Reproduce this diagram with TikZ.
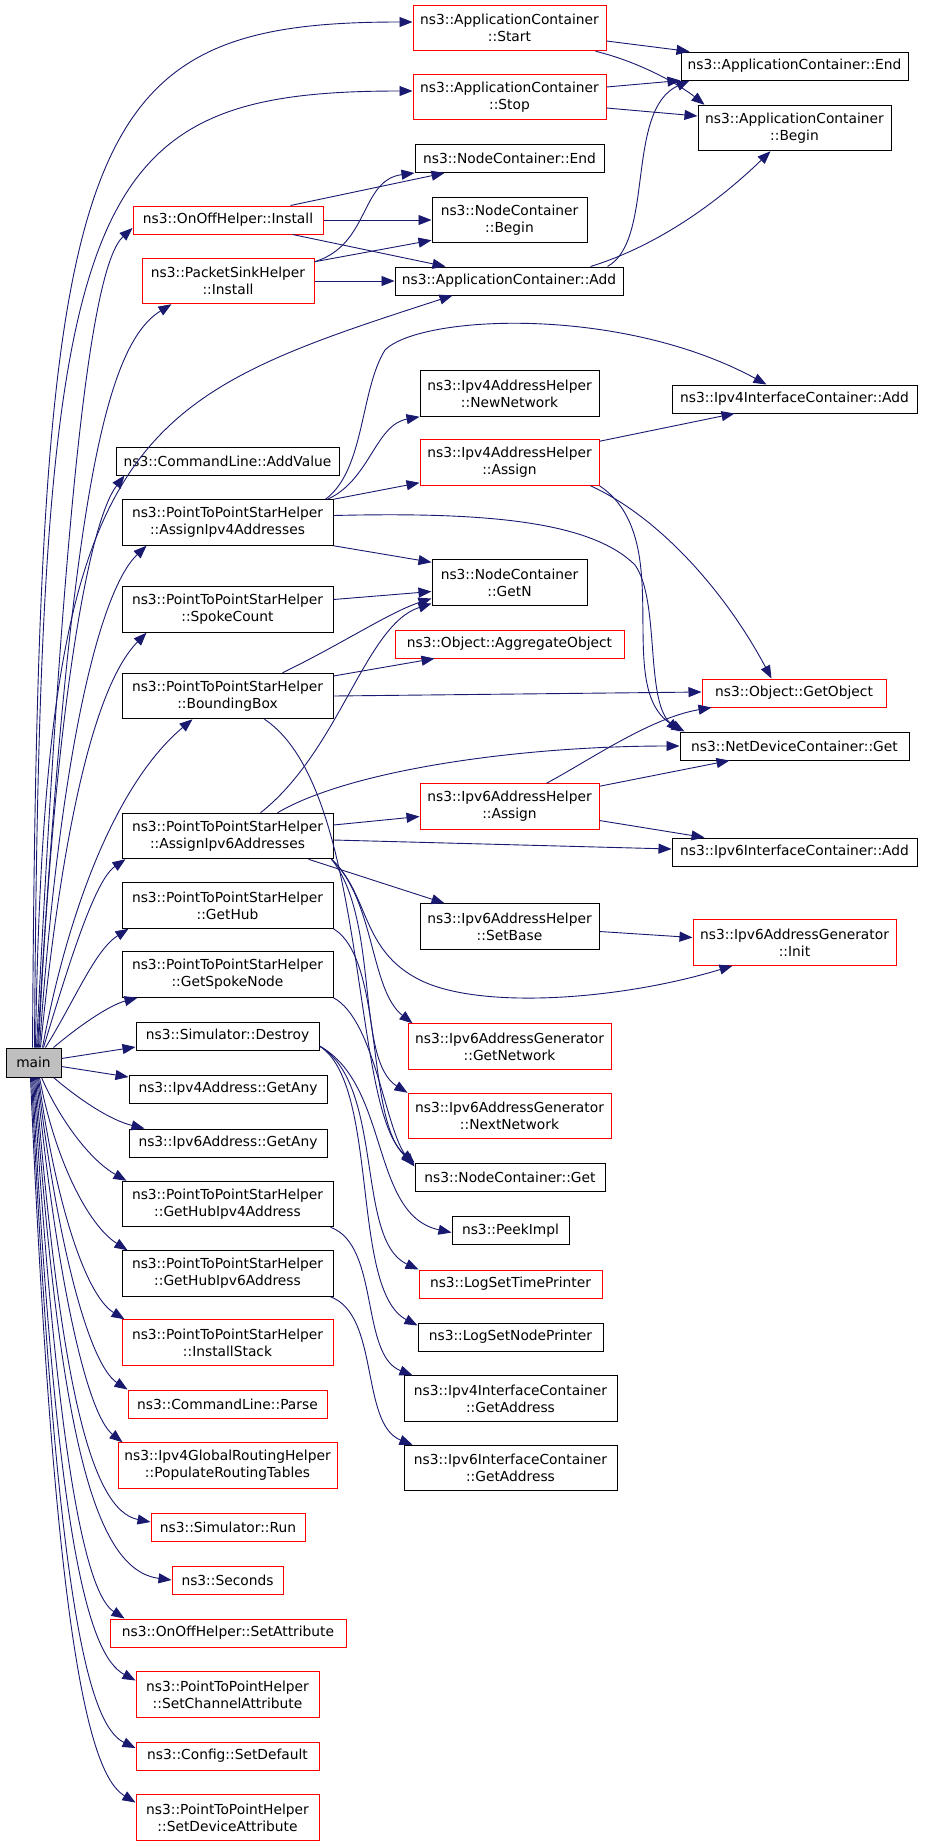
\documentclass[tikz,border=0pt]{standalone}
\usepackage{fontspec}
\setmainfont{DejaVu Sans}
\usetikzlibrary{arrows.meta, positioning, calc}
\definecolor{edgeblue}{HTML}{191970}
\definecolor{mainfill}{HTML}{BFBFBF}
\tikzset{
  fn/.style={draw=black, line width=1pt, fill=white, inner sep=0pt, align=center,
    font=\fontsize{13.8}{17}\selectfont, minimum height=28pt},
  fntwo/.style={fn, minimum height=45.5pt},
  redfn/.style={draw=red},
  call/.style={draw=edgeblue, line width=0.9pt, -{Triangle[length=13pt, width=10pt]}},
}
\begin{document}
\begin{tikzpicture}[x=1pt, y=-1pt]
\fill[white] (0,0) rectangle (928,1845);
\useasboundingbox (0,0) rectangle (928,1845);

\node[fntwo, redfn, minimum width=193] (start) at (509.5,28) {ns3::ApplicationContainer\\::Start};
\node[fntwo, redfn, minimum width=193] (stop) at (509.5,97) {ns3::ApplicationContainer\\::Stop};
\node[fn, minimum width=189] (ncend) at (509.5,158.5) {ns3::NodeContainer::End};
\node[fntwo, minimum width=155] (ncbegin) at (509.5,220) {ns3::NodeContainer\\::Begin};
\node[fn, minimum width=228] (appadd) at (509,281) {ns3::ApplicationContainer::Add};
\node[fn, minimum width=227] (append) at (794.5,66) {ns3::ApplicationContainer::End};
\node[fntwo, minimum width=193] (appbegin) at (794.5,128) {ns3::ApplicationContainer\\::Begin};
\node[fn, redfn, minimum width=190] (onoffinst) at (228,220) {ns3::OnOffHelper::Install};
\node[fntwo, redfn, minimum width=172] (sinkinst) at (228,281) {ns3::PacketSinkHelper\\::Install};
\node[fntwo, minimum width=179] (newnet) at (509.5,393.5) {ns3::Ipv4AddressHelper\\::NewNetwork};
\node[fn, minimum width=245] (v4icadd) at (794.5,399) {ns3::Ipv4InterfaceContainer::Add};
\node[fn, minimum width=223] (addvalue) at (227.5,461) {ns3::CommandLine::AddValue};
\node[fntwo, minimum width=211] (assign4s) at (227.5,522.5) {ns3::PointToPointStarHelper\\::AssignIpv4Addresses};
\node[fntwo, redfn, minimum width=179] (v4assign) at (509.5,462.5) {ns3::Ipv4AddressHelper\\::Assign};
\node[fntwo, minimum width=155] (getn) at (509.5,582.5) {ns3::NodeContainer\\::GetN};
\node[fntwo, minimum width=211] (spokecount) at (227.5,609.5) {ns3::PointToPointStarHelper\\::SpokeCount};
\node[fn, redfn, minimum width=229] (aggregate) at (509.5,644) {ns3::Object::AggregateObject};
\node[fntwo, minimum width=211] (bbox) at (227.5,696) {ns3::PointToPointStarHelper\\::BoundingBox};
\node[fn, redfn, minimum width=184] (getobject) at (794,693) {ns3::Object::GetObject};
\node[fn, minimum width=229] (ndcget) at (794.5,746) {ns3::NetDeviceContainer::Get};
\node[fntwo, redfn, minimum width=179] (v6assign) at (509.5,806.5) {ns3::Ipv6AddressHelper\\::Assign};
\node[fntwo, minimum width=211] (assign6s) at (227.5,836) {ns3::PointToPointStarHelper\\::AssignIpv6Addresses};
\node[fn, minimum width=245] (v6icadd) at (794.5,852) {ns3::Ipv6InterfaceContainer::Add};
\node[fntwo, minimum width=211] (gethub) at (227.5,905.5) {ns3::PointToPointStarHelper\\::GetHub};
\node[fntwo, minimum width=179] (setbase) at (509.5,926.5) {ns3::Ipv6AddressHelper\\::SetBase};
\node[fntwo, redfn, minimum width=203] (geninit) at (794.5,942.5) {ns3::Ipv6AddressGenerator\\::Init};
\node[fntwo, minimum width=211] (getspoke) at (227.5,974.5) {ns3::PointToPointStarHelper\\::GetSpokeNode};
\node[fntwo, redfn, minimum width=203] (getnetwork) at (509.5,1046.5) {ns3::Ipv6AddressGenerator\\::GetNetwork};
\node[fn, minimum width=183] (destroy) at (227.5,1036) {ns3::Simulator::Destroy};
\node[fn, fill=mainfill, minimum width=55, minimum height=29] (main) at (33.5,1062.5) {main};
\node[fn, minimum width=198] (v4any) at (228,1089) {ns3::Ipv4Address::GetAny};
\node[fntwo, redfn, minimum width=203] (nextnet) at (509.5,1116) {ns3::Ipv6AddressGenerator\\::NextNetwork};
\node[fn, minimum width=198] (v6any) at (228,1143) {ns3::Ipv6Address::GetAny};
\node[fn, minimum width=190] (ncget) at (510,1177) {ns3::NodeContainer::Get};
\node[fntwo, minimum width=211] (hubv4) at (227.5,1204) {ns3::PointToPointStarHelper\\::GetHubIpv4Address};
\node[fn, minimum width=117] (peekimpl) at (510.5,1230.5) {ns3::PeekImpl};
\node[fntwo, minimum width=211] (hubv6) at (227.5,1273.5) {ns3::PointToPointStarHelper\\::GetHubIpv6Address};
\node[fn, redfn, minimum width=183] (logtime) at (510.5,1284) {ns3::LogSetTimePrinter};
\node[fntwo, redfn, minimum width=211] (installstack) at (227.5,1342.5) {ns3::PointToPointStarHelper\\::InstallStack};
\node[fn, minimum width=185] (lognode) at (510.5,1337) {ns3::LogSetNodePrinter};
\node[fntwo, minimum width=213] (v4getaddr) at (510.5,1398.5) {ns3::Ipv4InterfaceContainer\\::GetAddress};
\node[fn, redfn, minimum width=199] (parse) at (227.5,1404) {ns3::CommandLine::Parse};
\node[fntwo, redfn, minimum width=219] (populate) at (227.5,1465.5) {ns3::Ipv4GlobalRoutingHelper\\::PopulateRoutingTables};
\node[fntwo, minimum width=213] (v6getaddr) at (510.5,1468) {ns3::Ipv6InterfaceContainer\\::GetAddress};
\node[fn, redfn, minimum width=154] (run) at (228,1527) {ns3::Simulator::Run};
\node[fn, redfn, minimum width=111] (seconds) at (227.5,1580) {ns3::Seconds};
\node[fn, redfn, minimum width=236] (setattr) at (228,1633) {ns3::OnOffHelper::SetAttribute};
\node[fntwo, redfn, minimum width=183] (setchannel) at (227.5,1694.5) {ns3::PointToPointHelper\\::SetChannelAttribute};
\node[fn, redfn, minimum width=183] (setdefault) at (227.5,1756) {ns3::Config::SetDefault};
\node[fntwo, redfn, minimum width=183] (setdevice) at (227.5,1817.5) {ns3::PointToPointHelper\\::SetDeviceAttribute};

% calls made by main
\draw[call] ([xshift=-1]main.north) .. controls (38,130) and (75,22) .. ([yshift=6]start.west);
\draw[call] ([xshift=1]main.north) .. controls (40,190) and (80,91) .. ([yshift=6]stop.west);
\draw[call] ([xshift=3]main.north) .. controls (65,480) and (92,265) .. ([yshift=-8]onoffinst.west);
\draw[call] ([xshift=4]main.north) .. controls (70,500) and (105,345) .. ([xshift=30]sinkinst.south west);
\draw[call] ([xshift=2]main.north) .. controls (45,430) and (130,400) .. ([xshift=58]appadd.south west);
\draw[call] ([xshift=5]main.north) .. controls (55,700) and (90,520) .. ([xshift=9]addvalue.south west);
\draw[call] ([xshift=6]main.north) .. controls (60,750) and (100,590) .. ([xshift=25]assign4s.south west);
\draw[call] ([xshift=7]main.north) .. controls (65,800) and (100,680) .. ([xshift=25]spokecount.south west);
\draw[call] ([xshift=9]main.north) .. controls (70,900) and (120,780) .. ([xshift=71]bbox.south west);
\draw[call] ([xshift=10]main.north) .. controls (70,960) and (95,880) .. ([xshift=4]assign6s.south west);
\draw[call] ([xshift=12]main.north) .. controls (75,1000) and (95,950) .. ([xshift=7]gethub.south west);
\draw[call] ([xshift=-8]main.north east) .. controls (80,1025) and (110,1005) .. ([xshift=16]getspoke.south west);
\draw[call] ([yshift=4]main.east) -- ([yshift=-11]destroy.west);
\draw[call] ([yshift=-4]main.east) -- ([yshift=12]v4any.west);
\draw[call] ([xshift=-8]main.south east) .. controls (80,1100) and (110,1120) .. ([xshift=16]v6any.north west);
\draw[call] ([xshift=8]main.south) .. controls (60,1120) and (90,1160) .. ([xshift=5]hubv4.north west);
\draw[call] ([xshift=6]main.south) .. controls (55,1160) and (88,1225) .. ([xshift=6]hubv6.north west);
\draw[call] ([xshift=5]main.south) .. controls (55,1200) and (85,1295) .. ([xshift=3]installstack.north west);
\draw[call] ([xshift=4]main.south) .. controls (58,1250) and (90,1365) .. (parse.north west);
\draw[call] ([xshift=3]main.south) .. controls (58,1290) and (88,1415) .. ([xshift=5]populate.north west);
\draw[call] ([xshift=2]main.south) .. controls (60,1380) and (90,1510) .. ([yshift=5]run.west);
\draw[call] ([xshift=1]main.south) .. controls (60,1440) and (95,1570) .. (seconds.west);
\draw[call] (main.south) .. controls (58,1480) and (88,1595) .. ([xshift=15]setattr.north west);
\draw[call] ([xshift=-1]main.south) .. controls (56,1540) and (88,1655) .. ([yshift=14]setchannel.west);
\draw[call] ([xshift=-2]main.south) .. controls (56,1600) and (88,1725) .. ([yshift=8]setdefault.west);
\draw[call] ([xshift=-3]main.south) .. controls (55,1650) and (90,1775) .. ([yshift=15]setdevice.west);

% application helpers and containers
\draw[call] ([xshift=-33]onoffinst.north east) -- ([xshift=30]ncend.south west);
\draw[call] (onoffinst.east) -- (ncbegin.west);
\draw[call] ([xshift=-31]onoffinst.south east) -- ([xshift=51]appadd.north west);
\draw[call] ([yshift=-4]sinkinst.north east) .. controls (370,245) and (360,180) .. (ncend.south west);
\draw[call] ([yshift=-4]sinkinst.north east) -- ([yshift=3]ncbegin.south west);
\draw[call] (sinkinst.east) -- (appadd.west);
\draw[call] ([yshift=-13]start.east) -- ([xshift=9]append.north west);
\draw[call] ([xshift=-11]start.south east) .. controls (640,62) and (680,85) .. ([xshift=7]appbegin.north west);
\draw[call] ([yshift=10]stop.east) -- (append.south west);
\draw[call] ([yshift=-11]stop.east) -- ([yshift=12]appbegin.west);
\draw[call] ([xshift=-16]appadd.north east) .. controls (655,240) and (625,110) .. ([xshift=9]append.south west);
\draw[call] ([xshift=-33]appadd.north east) .. controls (660,245) and (720,200) .. ([xshift=73]appbegin.south west);

% star helper, ipv4
\draw[call] ([xshift=-8]assign4s.north east) .. controls (365,470) and (360,390) .. (385,350)
  .. controls (420,315) and (620,305) .. ([xshift=95]v4icadd.north west);
\draw[call] ([xshift=-6]assign4s.north east) .. controls (370,480) and (375,425) .. (newnet.south west);
\draw[call] (assign4s.north east) -- ([yshift=3]v4assign.south west);
\draw[call] ([yshift=7]assign4s.east) .. controls (480,512) and (590,520) .. (635,565)
  .. controls (660,600) and (645,700) .. (ndcget.north west);
\draw[call] (assign4s.south east) -- ([yshift=-3]getn.north west);
\draw[call] ([yshift=-2]v4assign.north east) -- ([xshift=63]v4icadd.south west);
\draw[call] ([xshift=-9]v4assign.south east) .. controls (665,520) and (730,600) .. ([xshift=70]getobject.north west);
\draw[call] (v4assign.south east) .. controls (680,540) and (610,690) .. ([xshift=5]ndcget.north west);
\draw[call] ([yshift=10]spokecount.east) -- ([yshift=-9]getn.west);
\draw[call] ([xshift=55]bbox.north) .. controls (340,645) and (390,612) .. ([yshift=-16]getn.west);
\draw[call] ([yshift=20]bbox.east) -- ([xshift=40]aggregate.south west);
\draw[call] (bbox.east) -- ([yshift=1]getobject.west);
\draw[call] ([xshift=37]bbox.south) .. controls (370,790) and (350,1110) .. (ncget.north west);

% star helper, ipv6
\draw[call] ([yshift=11]assign6s.east) -- ([yshift=-10]v6assign.west);
\draw[call] ([yshift=-4]assign6s.east) -- ([yshift=3]v6icadd.west);
\draw[call] ([xshift=-25]assign6s.south east) -- ([xshift=25]setbase.north west);
\draw[call] ([xshift=-2]assign6s.south east) .. controls (370,895) and (360,950) .. (420,980)
  .. controls (480,1010) and (620,1000) .. ([xshift=40]geninit.south west);
\draw[call] ([xshift=-2]assign6s.south east) .. controls (375,900) and (370,990) .. ([xshift=5]getnetwork.north west);
\draw[call] ([xshift=-2]assign6s.south east) .. controls (380,920) and (355,1060) .. (nextnet.north west);
\draw[call] ([xshift=33]assign6s.north) .. controls (340,750) and (365,625) .. ([yshift=-21]getn.west);
\draw[call] ([xshift=50]assign6s.north) .. controls (350,770) and (520,746) .. (ndcget.west);
\draw[call] ([xshift=37]v6assign.north) .. controls (590,760) and (650,718) .. ([xshift=10]getobject.south west);
\draw[call] ([yshift=-3]v6assign.north east) -- ([xshift=50]ndcget.south west);
\draw[call] ([yshift=-14]v6assign.east) -- ([xshift=33]v6icadd.north west);
\draw[call] ([yshift=-5]setbase.east) -- ([yshift=5]geninit.west);

% node lookups and simulator
\draw[call] (gethub.south east) .. controls (385,960) and (365,1120) .. ([yshift=-2]ncget.north west);
\draw[call] (getspoke.south east) .. controls (375,1020) and (385,1130) .. ([yshift=-4]ncget.north west);
\draw[call] ([yshift=-10]destroy.east) .. controls (390,1085) and (370,1215) .. ([yshift=-2]peekimpl.west);
\draw[call] ([yshift=-10]destroy.east) .. controls (385,1085) and (355,1240) .. (logtime.north west);
\draw[call] ([yshift=-10]destroy.east) .. controls (380,1085) and (350,1290) .. ([yshift=-3]lognode.north west);
\draw[call] ([xshift=-3]hubv4.south east) .. controls (380,1245) and (360,1355) .. ([xshift=9]v4getaddr.north west);
\draw[call] ([xshift=-3]hubv6.south east) .. controls (380,1315) and (360,1424) .. ([xshift=9]v6getaddr.north west);
\end{tikzpicture}
\end{document}
